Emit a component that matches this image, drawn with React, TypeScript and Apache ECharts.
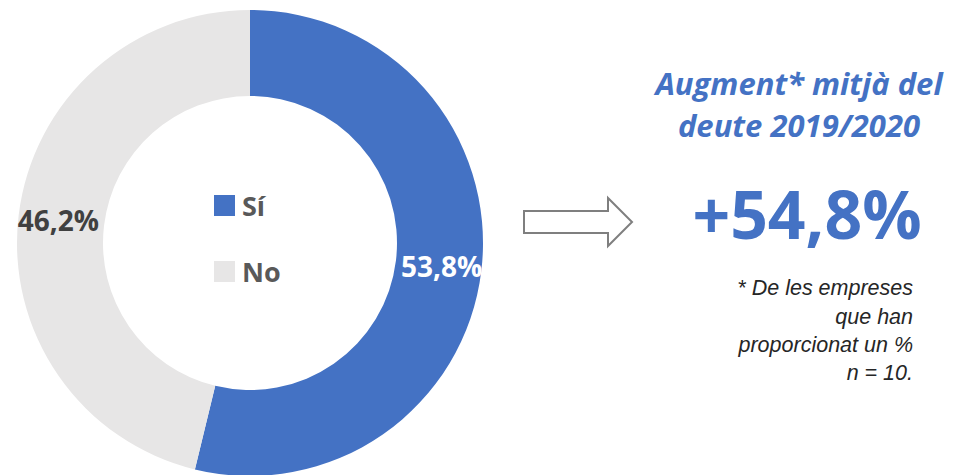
import React, { useEffect, useRef } from "react";
import * as echarts from "echarts";

const categories = ["Sí", "No"];
const values = [53.8, 46.2];
const colors = ["#4472C4", "#E7E6E6"];
const labelColors = ["#FFFFFF", "#404040"];
const titleLines = ["Augment* mitjà del", "deute 2019/2020"];
const bigValue = "+54,8%";
const noteLines = ["* De les empreses", "que han", "proporcionat un %", "n = 10."];

export default function App() {
  const ref = useRef<HTMLDivElement>(null);
  useEffect(() => {
    if (!ref.current) return;
    const chart = echarts.init(ref.current, undefined, { renderer: "svg" });
    const noteY = [288, 317, 345, 373];
    chart.setOption({
      animation: false,
      backgroundColor: "#FFFFFF",
      legend: {
        orient: "vertical",
        left: 214,
        top: 192,
        padding: 0,
        itemWidth: 21,
        itemHeight: 21,
        itemGap: 39,
        icon: "rect",
        selectedMode: false,
        data: categories,
        textStyle: {
          fontFamily: "Open Sans",
          fontWeight: "bold",
          fontSize: 27,
          color: "#595959",
          padding: [0, 0, 0, 2],
        },
      },
      series: [
        {
          type: "pie",
          center: [250, 243],
          radius: [147, 233],
          startAngle: 90,
          clockwise: true,
          avoidLabelOverlap: false,
          emphasis: { disabled: true },
          labelLine: { show: false },
          label: {
            show: true,
            position: "inside",
            fontFamily: "Open Sans",
            fontWeight: "bold",
            fontSize: 28,
            formatter: (p: any) => p.value.toFixed(1).replace(".", ",") + "%",
          },
          data: categories.map((c, i) => ({
            name: c,
            value: values[i],
            itemStyle: { color: colors[i] },
            label: { color: labelColors[i] },
          })),
        },
      ],
      graphic: [
        {
          type: "polygon",
          shape: {
            points: [
              [524, 211],
              [608, 211],
              [608, 198],
              [632, 222],
              [608, 246],
              [608, 233],
              [524, 233],
            ],
          },
          style: { fill: "#FFFFFF", stroke: "#7F7F7F", lineWidth: 2 },
        },
        ...titleLines.map((t, i) => ({
          type: "text",
          x: 799,
          y: 83 + i * 42,
          style: {
            text: t,
            textAlign: "center",
            textVerticalAlign: "middle",
            fontFamily: "Open Sans",
            fontWeight: "bold",
            fontStyle: "italic",
            fontSize: 31,
            fill: "#4472C4",
          },
        })),
        {
          type: "text",
          x: 807,
          y: 213,
          style: {
            text: bigValue,
            textAlign: "center",
            textVerticalAlign: "middle",
            fontFamily: "Open Sans",
            fontWeight: "bold",
            fontSize: 66,
            fill: "#4472C4",
          },
        },
        ...noteLines.map((t, i) => ({
          type: "text",
          x: 913,
          y: noteY[i],
          style: {
            text: t,
            textAlign: "right",
            textVerticalAlign: "middle",
            fontFamily: "Liberation Sans",
            fontStyle: "italic",
            fontSize: 21.5,
            fill: "#262626",
          },
        })),
      ],
    });
    return () => chart.dispose();
  }, []);
  return (
    <div
      ref={ref}
      style={{ position: "fixed", left: 0, top: 0, width: 958, height: 475 }}
    />
  );
}
